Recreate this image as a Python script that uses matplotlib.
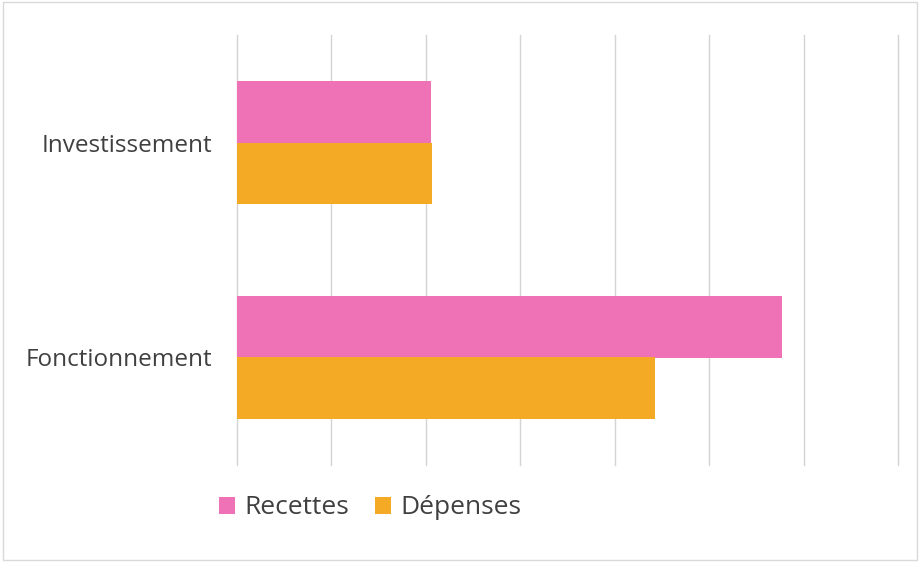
import matplotlib.pyplot as plt
import numpy as np
from matplotlib.patches import Rectangle

# Budget par section (ordre de bas en haut)
categories = ["Fonctionnement", "Investissement"]
recettes = [5.77, 2.05]
depenses = [4.43, 2.07]
x_ticks = [0, 1, 2, 3, 4, 5, 6, 7]

pink = "#EF72B6"
orange = "#F4AA25"
text_color = "#404040"

plt.rcParams["font.family"] = ["Open Sans", "DejaVu Sans"]

fig = plt.figure(figsize=(9.2, 5.62), dpi=100)
ax = fig.add_axes([237 / 920, 1 - 465 / 562, (898 - 237) / 920, (465 - 35) / 562])

y = np.arange(len(categories))
h = 0.286
ax.barh(y + h / 2, recettes, height=h, color=pink, label="Recettes", zorder=3)
ax.barh(y - h / 2, depenses, height=h, color=orange, label="Dépenses", zorder=3)

ax.set_xlim(x_ticks[0], x_ticks[-1])
ax.set_ylim(-0.5, len(categories) - 0.5)
ax.set_xticks(x_ticks)
ax.set_xticklabels([])
ax.set_yticks(y)
ax.set_yticklabels(categories, fontsize=17.5, color=text_color)
ax.tick_params(axis="both", length=0)
ax.tick_params(axis="y", pad=18)
ax.grid(axis="x", color="#D4D4D4", linewidth=1, zorder=0)
for line in ax.xaxis.get_gridlines():
    line.set_clip_on(False)
for s in ax.spines.values():
    s.set_visible(False)

leg = fig.legend(loc="center", bbox_to_anchor=(370 / 920, 1 - 508 / 562),
                 ncol=2, frameon=False, fontsize=19, handlelength=0.6,
                 handleheight=0.6, handletextpad=0.35, columnspacing=1.0)
for t in leg.get_texts():
    t.set_color(text_color)

# cadre du graphique
fig.patches.append(Rectangle((0.003, 0.004), 0.994, 0.992, transform=fig.transFigure,
                             fill=False, edgecolor="#D9D9D9", linewidth=1))

fig.savefig("out.png", dpi=100, facecolor="white")
